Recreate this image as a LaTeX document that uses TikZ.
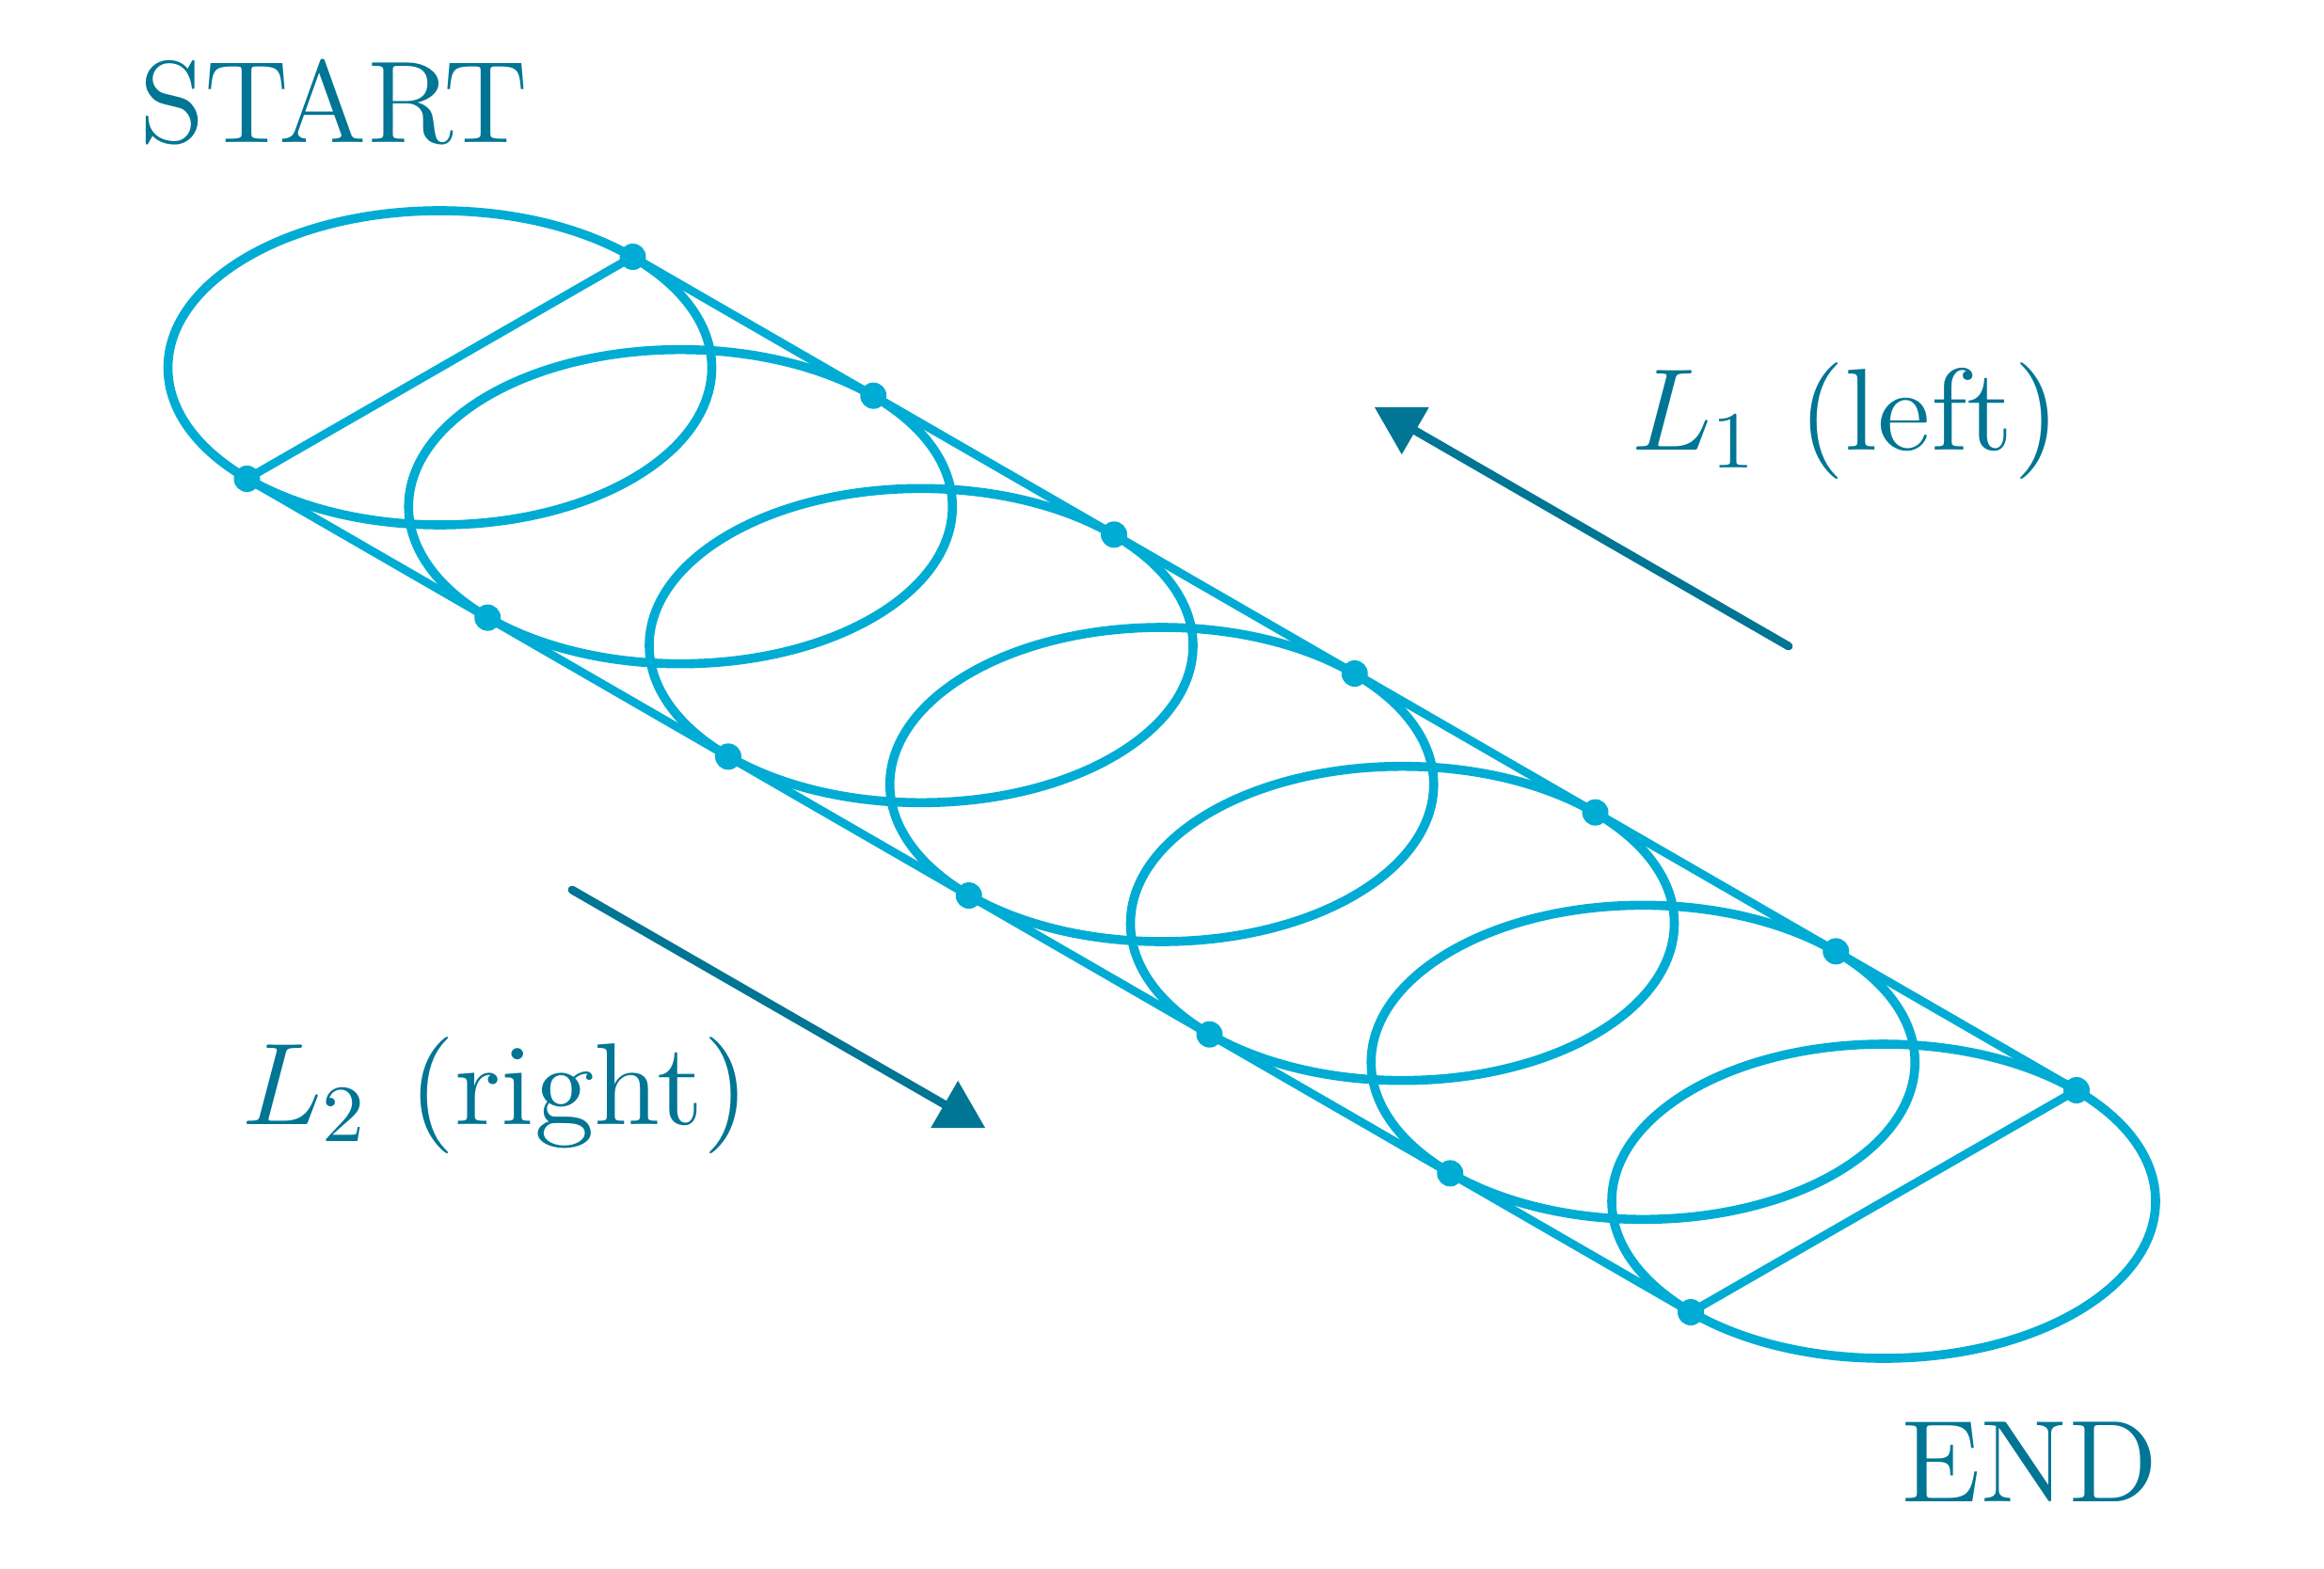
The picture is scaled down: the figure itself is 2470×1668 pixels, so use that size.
\documentclass[tikz,border=0pt]{standalone}
\usetikzlibrary{arrows.meta}
\definecolor{helix}{HTML}{00ACD4}
\definecolor{dirn}{HTML}{007594}
\tikzset{
  ringline/.style={draw=helix,line width=4.8pt},
  seam/.style={draw=helix,line width=4.4pt},
  dotmark/.style={circle,fill=helix,inner sep=0pt,outer sep=0pt,minimum size=14pt},
  flow/.style={draw=dirn,line width=4.4pt,line cap=round,
    -{Triangle[length=25pt,width=29pt,line width=0pt,round=false]}},
  lblbase/.style={text=dirn,inner sep=0pt,outer sep=0pt,anchor=base west,font=\Large},
  lbl/.style={lblbase,xscale=4.5,yscale=4.3},
  capslbl/.style={lblbase,xscale=4.42,yscale=4.3}
}
\begin{document}
\begin{tikzpicture}[x=0.5pt,y=-0.5pt]
\useasboundingbox (0,0) rectangle (2470,1668);
\foreach \i in {0,...,6}{
  \pgfmathsetmacro{\cx}{467.5+255.75*\i}
  \pgfmathsetmacro{\cy}{391+147.67*\i}
  \draw[ringline] (\cx,\cy) ellipse [x radius=144.5pt,y radius=83.5pt];
  \node[dotmark] (t\i) at (\cx+205,\cy-118) {};
  \node[dotmark] (b\i) at (\cx-205,\cy+118) {};
}
\foreach \i/\j in {0/1,1/2,2/3,3/4,4/5,5/6}{
  \draw[seam] (t\i.center) -- (t\j.center);
  \draw[seam] (b\i.center) -- (b\j.center);
}
\draw[seam] (b0.center) -- (t0.center);
\draw[seam] (b6.center) -- (t6.center);
\coordinate (l1tail) at (1901,687);
\coordinate (l1tip) at (1461,433);
\coordinate (l2tail) at (608,946);
\coordinate (l2tip) at (1047,1199);
\draw[flow] (l1tail) -- (l1tip);
\draw[flow] (l2tail) -- (l2tip);
\node[capslbl] (start) at (148,152) {START};
\node[capslbl] (end) at (2020,1596) {END};
\node[lbl] (l1) at (1733,479) {$L_1$\ (left)};
\node[lbl] (l2) at (256,1195) {$L_2$\ (right)};
\end{tikzpicture}
\end{document}
